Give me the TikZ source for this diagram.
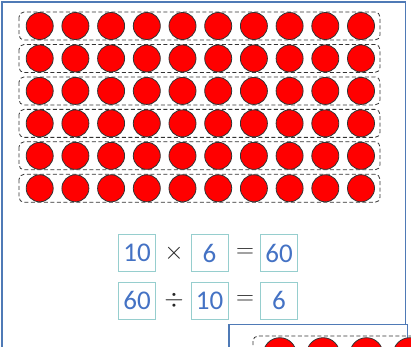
\documentclass[tikz,border=0pt]{standalone}
\usepackage{fontspec}
\setmainfont{Carlito}
\usetikzlibrary{positioning}
\definecolor{frameblue}{RGB}{79,122,182}
\definecolor{numblue}{RGB}{68,114,196}
\definecolor{boxteal}{RGB}{150,206,206}
\tikzset{
numbox/.style = {draw = boxteal, line width = 0.9pt, minimum width = 37pt, minimum height = 37pt, inner sep = 0pt, text = numblue, font = \fontsize{27}{30}\selectfont},
opsign/.style = {text = black!85, font = \fontsize{26}{30}\selectfont},
counter/.style = {fill = red, draw = black!80, line width = 0.8pt},
rowbox/.style = {draw = black!80, dash pattern = on 4pt off 2.5pt, line width = 0.8pt, rounded corners = 5pt}
}
\begin{document}
\begin{tikzpicture}[x = 1pt, y = -1pt]
\useasboundingbox (0,0) rectangle (411,346);
\clip (0,0) rectangle (411,346);
\draw [frameblue, line width = 1.5pt] (2,360) -- (2,2) -- (405.5,2) -- (405.5,330);
\foreach \r in {0,1,2,3,4,5}{
\draw [rowbox] (19,{26+32.46*\r-14}) rectangle (380,{26+32.46*\r+14});
\foreach \c in {0,1,2,3,4,5,6,7,8,9}{
\draw [counter] ({39.7+35.7*\c},{26+32.46*\r}) circle (13.5pt);
}
}
% multiplication and division
\node [numbox] (m1) at (137,253) {10};
\node [opsign] (times) at (174,253) {$\times$};
\node [numbox] (m2) at (209.5,253) {6};
\node [opsign] (eq1) at (245,253) {$=$};
\node [numbox] (m3) at (279,253) {60};
\node [numbox] (d1) at (137,300.5) {60};
\node [opsign] (divide) at (174,300.5) {$\div$};
\node [numbox] (d2) at (209.5,300.5) {10};
\node [opsign] (eq2) at (245,300.5) {$=$};
\node [numbox] (d3) at (279,300.5) {6};
% next card
\draw [frameblue, line width = 1.5pt, fill = white] (229,324.5) rectangle (407.7,400);
\draw [rowbox] (253,336) rectangle (480,380);
\foreach \c in {0,1,2,3}{
\draw [counter] ({279.8+43.3*\c},354.2) circle (16.5pt);
}
\end{tikzpicture}
\end{document}
